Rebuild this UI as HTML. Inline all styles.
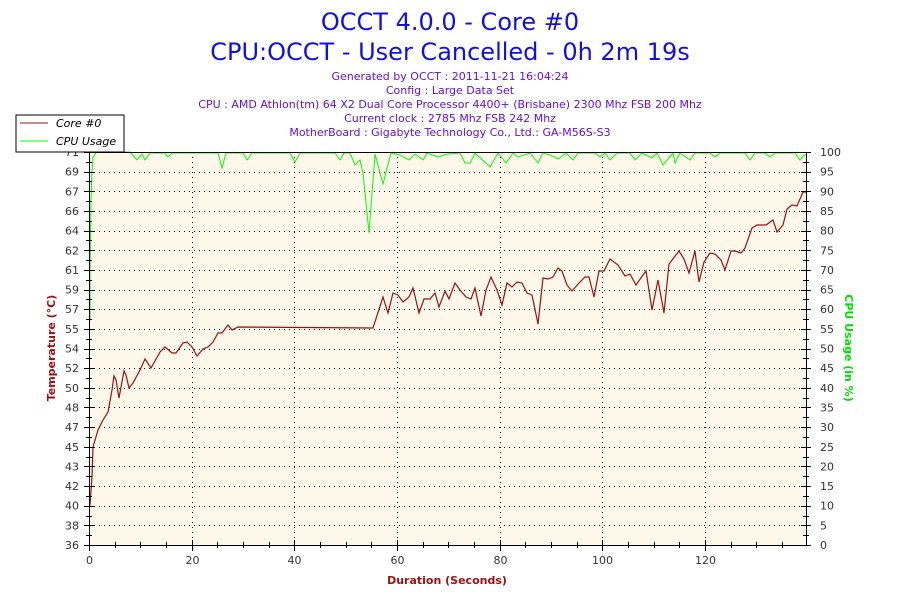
<!DOCTYPE html>
<html><head><meta charset="utf-8"><style>
body{margin:0;background:#fff;}
svg{display:block;font-family:"DejaVu Sans","Liberation Sans",sans-serif;}
</style></head><body>
<svg id="s" width="900" height="600" viewBox="0 0 900 600">
<rect x="89" y="152" width="717" height="393" fill="#fdf8ea"/>
<g id="grid"></g>
<text x="450" y="30" text-anchor="middle" font-size="24" fill="#1010e0">OCCT 4.0.0 - Core #0</text>
<text x="450" y="60" text-anchor="middle" font-size="24" fill="#1010e0">CPU:OCCT - User Cancelled - 0h 2m 19s</text>
<g font-size="11" fill="#6010e0" text-anchor="middle">
<text x="450" y="80">Generated by OCCT : 2011-11-21 16:04:24</text>
<text x="450" y="94">Config : Large Data Set</text>
<text x="450" y="108">CPU : AMD Athlon(tm) 64 X2 Dual Core Processor 4400+ (Brisbane) 2300 Mhz FSB 200 Mhz</text>
<text x="450" y="122">Current clock : 2785 Mhz FSB 242 Mhz</text>
<text x="450" y="136">MotherBoard : Gigabyte Technology Co., Ltd.: GA-M56S-S3</text>
</g>
<polyline fill="none" stroke="#00ff00" stroke-width="1" points="89,320 90,320 90,270 91,200 92,170 93,158 95,154 97,152 130,152 137,160 142,154 145,160 150,153 165,153 168,157 172,153 218,153 222,168 226,153 243,153 247,160 252,153 290,153 295,162 300,153 335,153 340,160 344,153 350,153 355,165 360,160 363,173 369,233 375,154 383,184 391,153 400,155 409,160 415,154 423,160 427,153 438,157 447,154 460,153 465,163 470,163 475,153 490,167 498,153 506,163 513,153 518,157 530,153 538,163 543,153 550,155 558,159 566,153 573,160 578,153 595,153 600,157 605,153 610,160 617,153 630,153 635,160 642,153 652,158 657,153 663,165 673,153 675,163 680,153 690,160 695,153 710,153 715,157 720,153 745,153 750,160 755,153 765,153 770,157 775,153 795,153 800,160 804,155 806,155"/>
<polyline fill="none" stroke="#9b1010" stroke-width="1.2" points="89,507 90,505 92,477 93,447 98,430 103,420 108,412 112,390 114,376 116,380 119,398 124,371 126,375 129,388 133,383 140,370 145,359 151,368 160,352 165,347 172,353 176,353 183,343 187,342 192,347 197,356 203,349 208,347 213,342 218,333 222,333 228,325 232,330 238,327 373,328 383,297 388,313 393,293 398,295 403,302 409,297 413,288 419,313 424,299 430,299 435,293 439,307 445,291 449,299 455,283 460,290 466,297 471,299 475,288 481,316 486,290 491,277 497,290 502,305 507,283 512,287 517,282 522,283 527,293 532,295 538,324 543,278 548,279 553,277 558,268 562,271 567,285 572,291 580,282 585,277 589,277 594,297 599,271 604,271 610,259 618,265 625,276 630,274 636,285 643,275 646,271 652,310 658,280 664,313 669,264 679,251 684,259 689,273 695,251 699,282 704,262 710,253 715,254 721,260 725,270 731,251 735,251 741,253 745,248 752,228 757,225 766,225 773,220 777,232 783,225 787,209 792,205 797,206 803,192 807,192"/>
<g id="axes"></g>
<rect x="16" y="115" width="108" height="37" fill="#fff" stroke="#000" stroke-width="1"/>
<line x1="20" y1="123" x2="48" y2="123" stroke="#9b1010"/>
<line x1="20" y1="141" x2="48" y2="141" stroke="#00ff00"/>
<text x="56" y="127" font-size="11" font-style="italic" fill="#000">Core #0</text>
<text x="56" y="145" font-size="11" font-style="italic" fill="#000">CPU Usage</text>
<text x="447" y="584" text-anchor="middle" font-size="11" font-weight="bold" fill="#a01010">Duration (Seconds)</text>
<text transform="translate(55,348) rotate(-90)" text-anchor="middle" font-size="11" font-weight="bold" fill="#a01010">Temperature (°C)</text>
<text transform="translate(845,348) rotate(90)" text-anchor="middle" font-size="11" font-weight="bold" fill="#00e000">CPU Usage (in %)</text>
</svg>
<script>
var ns="http://www.w3.org/2000/svg",g=document.getElementById('grid'),a=document.getElementById('axes');
function el(p,t,o){var e=document.createElementNS(ns,t);for(var k in o)e.setAttribute(k,o[k]);p.appendChild(e);return e;}
var L=89,R=806,T=152,B=545,step=(B-T)/20;
var tl=[36,38,40,42,43,45,47,48,50,52,54,55,57,59,61,62,64,66,67,69,71];
for(var i=0;i<=20;i++){var y=B-i*step,yr=Math.round(y)+.5;
 if(i>0&&i<20)el(g,'line',{x1:L,y1:yr,x2:R,y2:yr,stroke:'#000','stroke-dasharray':'1 4'});
 el(a,'line',{x1:L-5,y1:yr,x2:L+5,y2:yr,stroke:'#000'});
 el(a,'line',{x1:R-5,y1:yr,x2:R+5,y2:yr,stroke:'#000'});
 if(i<20){var ym=Math.round(y-step/2)+.5;el(a,'line',{x1:L-3,y1:ym,x2:L+3,y2:ym,stroke:'#000'});el(a,'line',{x1:R-3,y1:ym,x2:R+3,y2:ym,stroke:'#000'});}
 var t=el(a,'text',{x:L-10,y:y+4,'text-anchor':'end','font-size':'11',fill:'#333'});t.textContent=tl[i];
 var t2=el(a,'text',{x:R+14,y:y+4,'font-size':'11',fill:'#333'});t2.textContent=i*5;
}
var px=(R-L)/139.7;
for(var s=0;s<=135;s+=5){var x=Math.round(L+s*px)+.5;
 if(s%20==0){ if(s>0)el(g,'line',{x1:x,y1:T,x2:x,y2:B,stroke:'#000','stroke-dasharray':'1 4'});
  el(a,'line',{x1:x,y1:B-5,x2:x,y2:B+6,stroke:'#000'});
  var t=el(a,'text',{x:x,y:B+19,'text-anchor':'middle','font-size':'11',fill:'#333'});t.textContent=s;}
 else el(a,'line',{x1:x,y1:B-3,x2:x,y2:B+3,stroke:'#000'});}
el(a,'line',{x1:L+.5,y1:T,x2:L+.5,y2:B,stroke:'#000'});
el(a,'line',{x1:R+.5,y1:T,x2:R+.5,y2:B,stroke:'#000'});
el(a,'line',{x1:L,y1:B+.5,x2:R,y2:B+.5,stroke:'#000'});
el(a,'line',{x1:L,y1:T+.5,x2:R,y2:T+.5,stroke:'#000'});
</script>
</body></html>
